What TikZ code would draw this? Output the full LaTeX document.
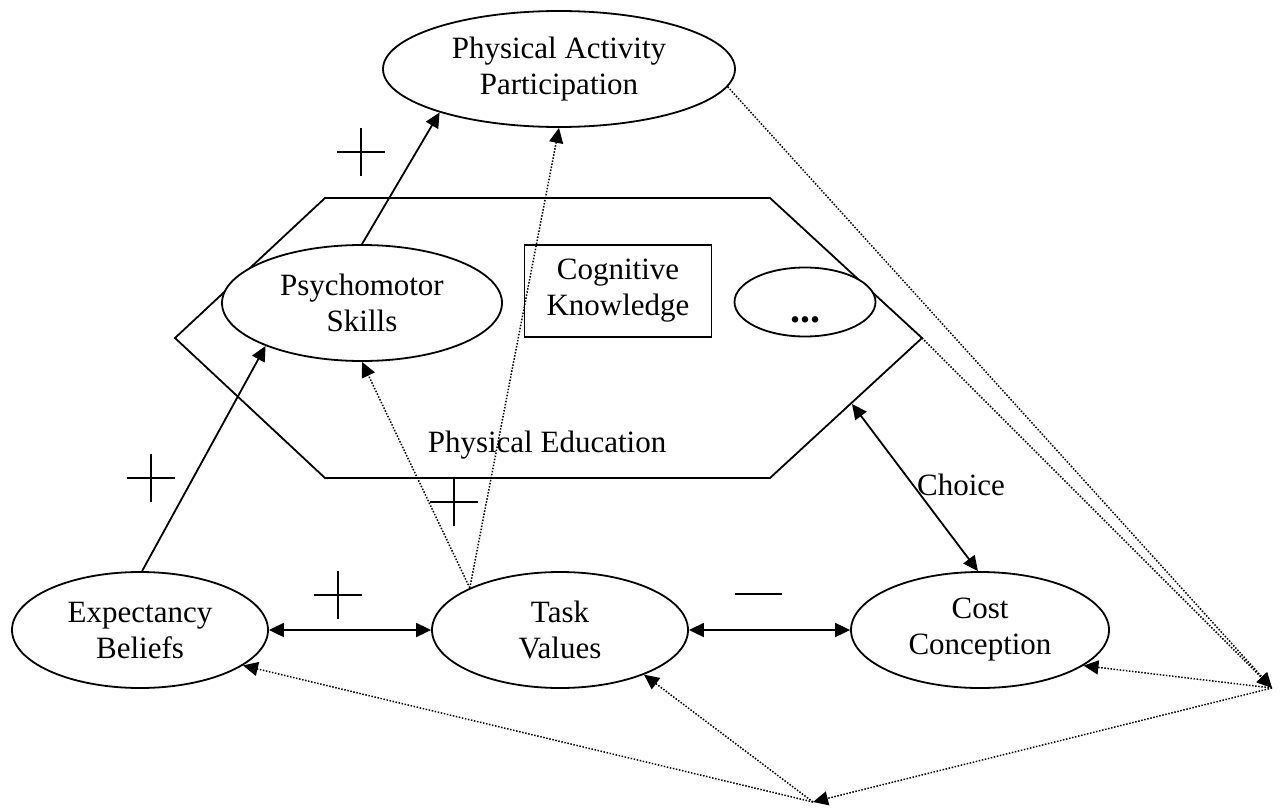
\documentclass[tikz,border=0pt]{standalone}
\usepackage{fontspec}
\setmainfont{Liberation Serif}
\usetikzlibrary{shapes.geometric,arrows.meta}
\begin{document}
\begin{tikzpicture}[x=1pt,y=-1pt,
  every node/.style={font=\fontsize{31}{36}\selectfont},
  oval/.style={draw, ellipse, line width=1.8pt, fill=white, inner sep=0pt, align=center},
  box/.style={draw, rectangle, line width=1.8pt, fill=white, inner sep=0pt, align=center},
  tip/.style={-{Triangle[length=15pt,width=14pt]}},
  link/.style={line width=1.8pt, tip},
  twoway/.style={line width=1.8pt, {Triangle[length=15pt,width=14pt]}-{Triangle[length=15pt,width=14pt]}},
  hint/.style={line width=1.5pt, dash pattern=on 1.5pt off 1.6pt, tip},
  sign/.style={line width=1.6pt},
  frame/.style={line width=1.8pt, line join=miter}
]
\useasboundingbox (0,0) rectangle (1282,808);

% hexagon for the physical education setting
\coordinate (hexW) at (175,338);
\coordinate (hexNW) at (325,198);
\coordinate (hexNE) at (770,198);
\coordinate (hexE) at (922,338);
\coordinate (hexSE) at (770,478);
\coordinate (hexSW) at (325,478);
\draw[frame] (hexW) -- (hexNW) -- (hexNE) -- (hexE) -- (hexSE) -- (hexSW) -- cycle;
\coordinate (hexchoice) at (852,404);

% constructs
\node[oval, minimum width=352pt, minimum height=116pt] (pap) at (559,69) {Physical Activity\\Participation};
\node[oval, minimum width=280pt, minimum height=116pt] (psy) at (362,303) {Psychomotor\\Skills};
\node[box, minimum width=187pt, minimum height=92pt] (cog) at (618,291) {Cognitive\\Knowledge};
\node[oval, minimum width=141pt, minimum height=69pt] (etc) at (805,302) {};
\node[anchor=base, font=\fontsize{40}{44}\selectfont\bfseries] (etcdots) at (805,322) {...};
\node[anchor=base] (pe) at (547,452) {Physical Education};
\node[oval, minimum width=256pt, minimum height=116pt] (exp) at (140,630) {Expectancy\\Beliefs};
\node[oval, minimum width=256pt, minimum height=116pt] (tv) at (560,630) {Task\\Values};
\node[oval, minimum width=258pt, minimum height=116pt] (cost) at (980,630) {Cost\\Conception};
\node[anchor=base] (choice) at (961,495) {Choice};

% solid relations
\draw[link] (psy.90) -- (pap.200);
\draw[link] (exp.88) -- (psy.204);
\draw[twoway] (exp.0) -- (tv.180);
\draw[twoway] (tv.0) -- (cost.180);
\draw[twoway] (hexchoice) -- (cost.92);

% dotted influences
\coordinate (P) at (1272,688);
\coordinate (Q) at (813,802);
\draw[hint] (tv.155) -- (psy.270);
\draw[hint] (tv.155) -- (pap.270);
\draw[hint] (pap.-6) -- (P);
\draw[hint] (hexE) -- (P);
\draw[hint] (P) -- (cost.-19);
\draw[hint] (P) -- (Q);
\draw[hint] (Q) -- (exp.-19);
\draw[hint] (Q) -- (tv.-28);

% signs of the relations
\draw[sign] (337,152) -- (385,152) (361,128) -- (361,176);
\draw[sign] (127,478) -- (175,478) (151,454) -- (151,502);
\draw[sign] (430,502) -- (478,502) (454,478) -- (454,526);
\draw[sign] (314,595) -- (362,595) (338,571) -- (338,619);
\draw[sign] (735,594) -- (782,594);
\end{tikzpicture}
\end{document}
